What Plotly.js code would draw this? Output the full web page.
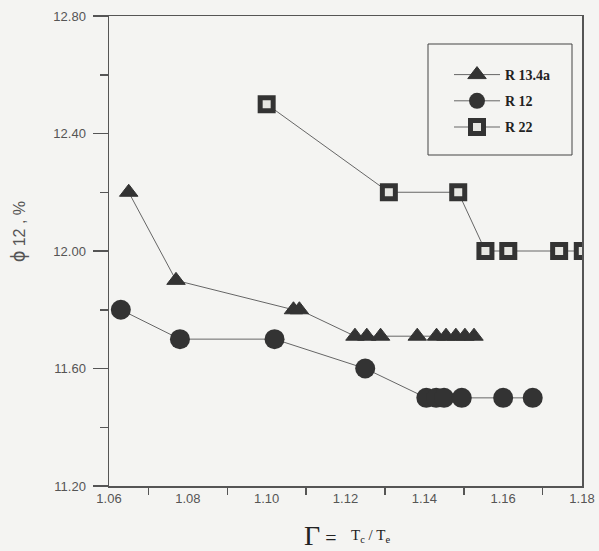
<!DOCTYPE html>
<html>
<head>
<meta charset="utf-8">
<script src="https://cdn.plot.ly/plotly-3.0.1.min.js"></script>
<style>html,body{margin:0;padding:0;background:#f4f4f2;}</style>
</head>
<body>
<div id="chart" style="width:599px;height:551px;"></div>
<script>
// R 13.4a (triangles)
const r134aX = [1.065, 1.077, 1.1068, 1.1083, 1.1224, 1.1254, 1.1289, 1.1382, 1.1431, 1.1455, 1.1480, 1.1503, 1.1526];
const r134aY = [12.20, 11.90, 11.80, 11.80, 11.71, 11.71, 11.71, 11.71, 11.71, 11.71, 11.71, 11.71, 11.71];
// R 12 (circles)
const r12X = [1.063, 1.078, 1.102, 1.125, 1.1405, 1.143, 1.145, 1.1495, 1.160, 1.1675];
const r12Y = [11.80, 11.70, 11.70, 11.60, 11.50, 11.50, 11.50, 11.50, 11.50, 11.50];
// R 22 (squares)
const r22X = [1.100, 1.131, 1.1486, 1.1555, 1.1613, 1.1742, 1.1802];
const r22Y = [12.50, 12.20, 12.20, 12.00, 12.00, 12.00, 12.00];

const seriesNames = ["R 13.4a", "R 12", "R 22"];
const xTickVals = [1.06, 1.08, 1.10, 1.12, 1.14, 1.16, 1.18];
const xTickText = ["1.06", "1.08", "1.10", "1.12", "1.14", "1.16", "1.18"];
const xMinorVals = [1.07, 1.09, 1.11, 1.13, 1.15, 1.17];
const yTickVals = [11.20, 11.60, 12.00, 12.40, 12.80];
const yTickText = ["11.20", "11.60", "12.00", "12.40", "12.80"];
const yMinorVals = [11.40, 11.80, 12.20, 12.60];

const ink = "#333333";
const lineCol = "#666666";

// pixel helpers for layout placement (plot area: x 109..582, y 16..486)
const L = 109, R = 17, T = 16, B = 65, W = 599, H = 551;
const pw = W - L - R, ph = H - T - B;
const px = v => (v - L) / pw;
const py = v => (H - B - v) / ph;

const traces = [
  {x: r134aX, y: r134aY, name: seriesNames[0], mode: "lines+markers", legendgroup: "a",
   line: {color: lineCol, width: 1},
   marker: {symbol: "triangle-up", size: 16, color: ink, line: {color: ink, width: 1}}},
  {x: r12X, y: r12Y, name: seriesNames[1], mode: "lines+markers", legendgroup: "b",
   line: {color: lineCol, width: 1},
   marker: {symbol: "circle", size: 20, color: ink, line: {color: ink, width: 0}}},
  {x: r22X, y: r22Y, name: seriesNames[2], mode: "lines+markers", legendgroup: "c",
   line: {color: lineCol, width: 1},
   marker: {symbol: "square", size: 13, color: "#e6e6e2", line: {color: ink, width: 5}}}
];

const layout = {
  width: W, height: H,
  margin: {l: L, r: R, t: T, b: B},
  paper_bgcolor: "#f4f4f2",
  plot_bgcolor: "#f4f4f2",
  font: {family: "Liberation Sans, Arial, sans-serif", color: "#555555", size: 13},
  showlegend: true,
  legend: {
    x: px(449), y: py(59), xanchor: "left", yanchor: "top",
    bgcolor: "rgba(0,0,0,0)", borderwidth: 0,
    traceorder: "grouped", tracegroupgap: 5, itemwidth: 46,
    font: {family: "Liberation Serif, Times New Roman, serif", size: 14, color: "#222222", weight: "bold"}
  },
  xaxis: {
    range: [1.06, 1.18], showgrid: false, zeroline: false,
    showline: true, linecolor: "#555555", linewidth: 1.5, mirror: true,
    tickmode: "array", tickvals: xTickVals, ticktext: xTickText, ticks: "",
    tickfont: {size: 13, color: "#555555"},
    minor: {tickmode: "array", tickvals: xMinorVals, ticks: "outside", ticklen: 7, tickwidth: 1.5, tickcolor: "#555555", showgrid: false}
  },
  yaxis: {
    range: [11.20, 12.80], showgrid: false, zeroline: false,
    showline: true, linecolor: "#555555", linewidth: 1.5, mirror: true,
    tickmode: "array", tickvals: yTickVals, ticktext: yTickText,
    ticks: "outside", ticklen: 15, tickwidth: 1.5, tickcolor: "#555555",
    ticklabelstandoff: 4,
    tickfont: {size: 13, color: "#555555"},
    minor: {tickmode: "array", tickvals: yMinorVals, ticks: "outside", ticklen: 8, tickwidth: 1.5, tickcolor: "#555555", showgrid: false}
  },
  shapes: [
    {type: "rect", xref: "paper", yref: "paper", x0: px(428), x1: px(572), y0: py(155), y1: py(44),
     line: {color: "#444444", width: 1}, fillcolor: "rgba(0,0,0,0)"}
  ],
  annotations: [
    {xref: "paper", yref: "paper", x: px(18), y: py(232), text: "<span style='font-size:20px'>ϕ</span> 12 , %",
     textangle: -90, showarrow: false, xanchor: "center", yanchor: "middle",
     font: {family: "Liberation Sans, Arial, sans-serif", size: 16, color: "#555555"}},
    {xref: "paper", yref: "paper", x: px(320), y: py(535), text: "<span style='font-size:28px'>Γ</span> <span style='font-size:20px'>=</span>",
     showarrow: false, xanchor: "center", yanchor: "middle",
     font: {family: "Liberation Serif, Times New Roman, serif", size: 20, color: "#222222"}},
    {xref: "paper", yref: "paper", x: px(370), y: py(536), text: "T<sub>c</sub> / T<sub>e</sub>",
     showarrow: false, xanchor: "center", yanchor: "middle",
     font: {family: "Liberation Serif, Times New Roman, serif", size: 15, color: "#222222"}}
  ]
};

Plotly.newPlot("chart", traces, layout, {displayModeBar: false, staticPlot: true});
</script>
</body>
</html>
